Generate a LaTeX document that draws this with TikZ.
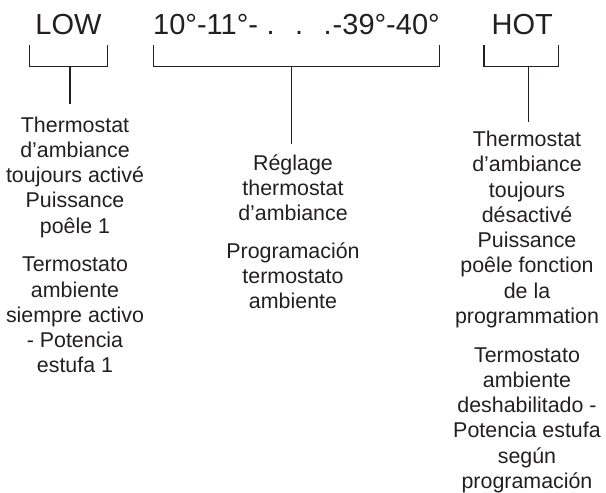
\documentclass[tikz,border=0pt]{standalone}
\usepackage{fontspec}
\setmainfont{Liberation Sans}
\definecolor{ink}{HTML}{231F20}
\begin{document}
\begin{tikzpicture}[x=1pt,y=-1pt,
  toplabel/.style={inner sep=0pt,anchor=base,text=ink,font=\fontsize{29}{34}\selectfont},
  body/.style={inner sep=0pt,anchor=base,align=center,text=ink,font=\fontsize{21.4}{25.3}\selectfont},
  bracket/.style={draw=ink,line width=1.5pt},
  stem/.style={draw=ink,line width=1.5pt}]
\useasboundingbox (0,0) rectangle (606,493);
% top labels
\node[toplabel] (low) at (68.5,34) {LOW};
\node[toplabel,anchor=base west] (range) at (153,34) {10°-11°-\hspace{8.5pt}.\hspace{20.5pt}.\hspace{20.5pt}.\hspace{1pt}-39°-40°};
\node[toplabel] (hot) at (522.2,34) {HOT};
% brackets
\draw[bracket] (29.3,45) -- (29.3,66.7) -- (107.3,66.7) -- (107.3,45);
\draw[bracket] (153.3,45) -- (153.3,66.7) -- (439.3,66.7) -- (439.3,45);
\draw[bracket] (484,45) -- (484,66.7) -- (558.7,66.7) -- (558.7,45);
\coordinate (lowb) at (70,66.7);
\coordinate (lowe) at (70,104.3);
\coordinate (midb) at (291.7,66.7);
\coordinate (mide) at (291.7,144);
\coordinate (hotb) at (528.3,66.7);
\coordinate (hote) at (528.3,121.7);
\draw[stem] (lowb) -- (lowe);
\draw[stem] (midb) -- (mide);
\draw[stem] (hotb) -- (hote);
% texts (anchor = baseline of last line)
\node[body] (lfr) at (75,233.2) {Thermostat\\d’ambiance\\toujours activé\\Puissance\\poêle 1};
\node[body] (les) at (75,372.9) {Termostato\\ambiente\\siempre activo\\- Potencia\\estufa 1};
\node[body] (mfr) at (293,220.6) {Réglage\\thermostat\\d’ambiance};
\node[body] (mes) at (293,308.9) {Programación\\termostato\\ambiente};
\node[body] (rfr) at (527,323.5) {Thermostat\\d’ambiance\\toujours\\désactivé\\Puissance\\poêle fonction\\de la\\programmation};
\node[body] (res) at (527,488.5) {Termostato\\ambiente\\deshabilitado -\\Potencia estufa\\según\\programación};
\end{tikzpicture}
\end{document}
